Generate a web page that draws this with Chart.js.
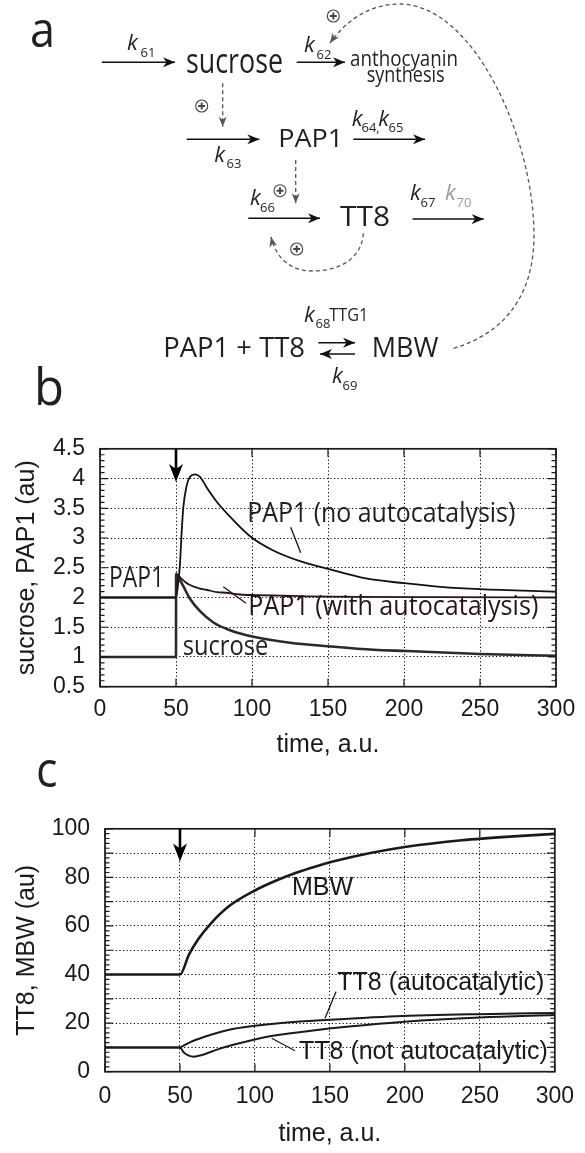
<!DOCTYPE html>
<html>
<head>
<meta charset="utf-8">
<script src="https://cdn.jsdelivr.net/npm/chart.js@4.4.1/dist/chart.umd.min.js"></script>
<style>
  body { margin: 0; background: #fff; }
  #page { position: relative; width: 585px; height: 1153px; overflow: hidden; background: #fff; }
  .box { position: absolute; left: 0; width: 585px; }
  #boxB { top: 420px; height: 340px; }
  #boxC { top: 800px; height: 353px; }
  #overlay { position: absolute; left: 0; top: 0; z-index: 2; pointer-events: none; }
  .d { font-family: 'Open Sans', 'Noto Sans', sans-serif; fill: #231f20; }
  .k { font-family: 'Open Sans', 'Noto Sans', sans-serif; font-style: italic; fill: #231f20; font-size: 22px; }
  .s { font-family: 'Open Sans', 'Noto Sans', sans-serif; fill: #231f20; font-size: 13px; }
  .h { font-family: 'Liberation Sans', Arial, sans-serif; fill: #1a1a1a; font-size: 25px; }
</style>
</head>
<body>
<div id="page">
  <div class="box" id="boxB"><canvas id="chartB"></canvas></div>
  <div class="box" id="boxC"><canvas id="chartC"></canvas></div>

  <svg id="overlay" width="585" height="1153" viewBox="0 0 585 1153">
    <defs>
      <marker id="ah" viewBox="0 0 12 10" refX="12" refY="5" markerWidth="12" markerHeight="10" markerUnits="userSpaceOnUse" orient="auto">
        <path d="M0,0 L12,5 L0,10 L3.5,5z" fill="#111"/>
      </marker>
      <marker id="gh" viewBox="0 0 10 8" refX="10" refY="4" markerWidth="10" markerHeight="8" markerUnits="userSpaceOnUse" orient="auto">
        <path d="M0,0 L10,4 L0,8 L3,4z" fill="#555"/>
      </marker>
    </defs>

    <!-- panel letters -->
    <text class="d" x="30" y="46.7" font-size="50" textLength="25" lengthAdjust="spacingAndGlyphs">a</text>
    <text class="d" x="34" y="405" font-size="52" textLength="30" lengthAdjust="spacingAndGlyphs">b</text>
    <text class="d" x="36" y="786.7" font-size="50" textLength="21.5" lengthAdjust="spacingAndGlyphs">c</text>

    <!-- reaction arrows -->
    <g stroke="#111" stroke-width="1.6" fill="none" marker-end="url(#ah)">
      <line x1="101.7" y1="62.3" x2="175" y2="62.3"/>
      <line x1="296.7" y1="62.3" x2="345" y2="62.3"/>
      <line x1="186.7" y1="139.3" x2="259.3" y2="139.3"/>
      <line x1="353.3" y1="139.3" x2="425" y2="139.3"/>
      <line x1="248.3" y1="218.3" x2="320" y2="218.3"/>
      <line x1="412.5" y1="219" x2="483.7" y2="219"/>
      <line x1="318.3" y1="342.7" x2="355" y2="342.7"/>
      <line x1="355" y1="354" x2="320" y2="354"/>
    </g>

    <!-- regulatory dashed arrows -->
    <g stroke="#555" stroke-width="1.3" fill="none" stroke-dasharray="4 3" marker-end="url(#gh)">
      <line x1="222.7" y1="83.3" x2="222.7" y2="126.7"/>
      <line x1="295.7" y1="160" x2="295.7" y2="203.3"/>
      <path d="M363.3,233.3 C362,258 340,271 313,271 C290,271 276,258 271,237"/>
      <path d="M453.7,348.3 C495,336 534,305 534,235 C534,140 475,5 400,4 C368,4 345,22 330,43"/>
    </g>

    <!-- plus signs -->
    <g stroke="#444" fill="#fff">
      <circle cx="333.3" cy="16" r="6" stroke-width="1.1"/>
      <circle cx="201.7" cy="106" r="6" stroke-width="1.1"/>
      <circle cx="280" cy="190.7" r="6" stroke-width="1.1"/>
      <circle cx="296.7" cy="249" r="6" stroke-width="1.1"/>
    </g>
    <g stroke="#444" stroke-width="1.9">
      <path d="M329.8,16 h7 M333.3,12.5 v7"/>
      <path d="M198.2,106 h7 M201.7,102.5 v7"/>
      <path d="M276.5,190.7 h7 M280,187.2 v7"/>
      <path d="M293.2,249 h7 M296.7,245.5 v7"/>
    </g>

    <!-- species -->
    <text class="d" x="186" y="73.3" font-size="34" textLength="97" lengthAdjust="spacingAndGlyphs">sucrose</text>
    <text class="d" x="350" y="66" font-size="22" textLength="108" lengthAdjust="spacingAndGlyphs">anthocyanin</text>
    <text class="d" x="366.7" y="81.7" font-size="22" textLength="78" lengthAdjust="spacingAndGlyphs">synthesis</text>
    <text class="d" x="278.3" y="146.7" font-size="26" textLength="65" lengthAdjust="spacingAndGlyphs">PAP1</text>
    <text class="d" x="340" y="225.7" font-size="27" textLength="50" lengthAdjust="spacingAndGlyphs">TT8</text>
    <text class="d" x="163.3" y="356.7" font-size="28" textLength="141.7" lengthAdjust="spacingAndGlyphs">PAP1 + TT8</text>
    <text class="d" x="371.7" y="356.7" font-size="28" textLength="66.7" lengthAdjust="spacingAndGlyphs">MBW</text>

    <!-- rate constants -->
    <g lengthAdjust="spacingAndGlyphs">
      <text class="k" x="127" y="50" textLength="12">k</text><text class="s" x="140.5" y="57.3">61</text>
      <text class="k" x="304" y="51.7" textLength="12">k</text><text class="s" x="316.5" y="59.3">62</text>
      <text class="k" x="214.3" y="161.7" textLength="12">k</text><text class="s" x="226.5" y="168.3">63</text>
      <text class="k" x="351.7" y="126" textLength="11">k</text><text class="s" x="361.5" y="131.7">64,</text>
      <text class="k" x="378.3" y="126" textLength="11">k</text><text class="s" x="388.5" y="131.7">65</text>
      <text class="k" x="250" y="205" textLength="11">k</text><text class="s" x="260" y="212.3">66</text>
      <text class="k" x="410" y="200" textLength="11">k</text><text class="s" x="420.5" y="206.7">67</text>
      <text class="k" x="445" y="200" textLength="11" style="fill:#9a9a9a">k</text><text class="s" x="456.5" y="206.7" style="fill:#9a9a9a">70</text>
      <text class="k" x="304" y="321.7" textLength="12">k</text><text class="s" x="315.5" y="328.3">68</text>
      <text class="k" x="332" y="383.3" textLength="11">k</text><text class="s" x="342.5" y="390">69</text>
    </g>
    <text class="d" x="329.3" y="320.7" font-size="17.5" textLength="39" lengthAdjust="spacingAndGlyphs">TTG1</text>

    <!-- panel b annotations -->
    <text class="d" x="109" y="586.7" font-size="29" textLength="55" lengthAdjust="spacingAndGlyphs">PAP1</text>
    <text class="d" x="247.3" y="522" font-size="28" textLength="268" lengthAdjust="spacingAndGlyphs">PAP1 (no autocatalysis)</text>
    <text class="d" x="248.3" y="615" font-size="28" textLength="290" lengthAdjust="spacingAndGlyphs" style="fill:#2b1414">PAP1 (with autocatalysis)</text>
    <text class="d" x="182.7" y="655" font-size="28" textLength="85.6" lengthAdjust="spacingAndGlyphs">sucrose</text>
    <line x1="290.7" y1="527.3" x2="300.7" y2="552.7" stroke="#2b1414" stroke-width="1.4"/>
    <line x1="223.3" y1="586.7" x2="246" y2="603.3" stroke="#2b1414" stroke-width="1.4"/>

    <!-- panel c annotations -->
    <text class="h" x="292" y="895">MBW</text>
    <text class="h" x="337.3" y="990">TT8 (autocatalytic)</text>
    <text class="h" x="299" y="1059">TT8 (not autocatalytic)</text>
    <line x1="336" y1="991.7" x2="325" y2="1018.3" stroke="#1a1a1a" stroke-width="1.3"/>
    <line x1="271.7" y1="1038.3" x2="295" y2="1050.7" stroke="#1a1a1a" stroke-width="1.3"/>
  </svg>
</div>

<script>
// shared time axis
const timeTicks = [0, 50, 100, 150, 200, 250, 300];
const stimulusTime = 50;

// panel b: sucrose and PAP1 (au)
const sucroseT = [0, 50, 50.05, 51, 52.5, 54.8, 59.2, 65.8, 74.6, 85.5, 101, 125, 150, 180, 202, 250, 300];
const sucroseV = [1, 1, 2.40, 2.37, 2.30, 2.19, 1.98, 1.77, 1.58, 1.45, 1.34, 1.24, 1.18, 1.12, 1.10, 1.05, 1.02];
const papAutoT = [0, 50, 51.5, 53, 56, 59.2, 65.8, 70, 77, 83, 92, 103, 120, 136, 170, 220, 300];
const papAutoV = [2, 2, 2.37, 2.33, 2.26, 2.21, 2.15, 2.13, 2.09, 2.08, 2.05, 2.04, 2.03, 2.02, 2.01, 2.005, 2.0];
const papNoT = [0, 50, 51.5, 52.6, 53.7, 54.8, 57, 59.2, 62.5, 65.8, 70.2, 76.8, 87.7, 98.7, 114, 131.6, 150, 175, 200, 224, 250, 300];
const papNoV = [2, 2, 2.25, 2.56, 3.09, 3.51, 3.88, 4.03, 4.07, 4.03, 3.85, 3.61, 3.30, 3.03, 2.79, 2.61, 2.48, 2.32, 2.24, 2.18, 2.14, 2.10];

// panel c: TT8 and MBW (au)
const mbwT = [0, 50, 56, 62.5, 71, 82, 100, 115, 128, 140, 152, 177, 201, 238, 275, 300];
const mbwV = [40, 40, 48.2, 54.8, 61.3, 67.8, 74.6, 78.9, 82.0, 84.4, 86.5, 90.0, 92.6, 95.3, 97.0, 97.9];
const tt8AutoT = [0, 50, 52, 55.9, 66.9, 82.2, 100, 119.5, 141, 160, 194, 249, 300];
const tt8AutoV = [10, 10, 10.6, 11.9, 14.5, 17.2, 18.9, 20.2, 21.1, 21.7, 22.8, 23.7, 24.2];
const tt8NotT = [0, 50, 52.6, 55.9, 59.2, 64.7, 75.7, 88.8, 104.2, 123.9, 141.4, 161, 200, 250, 300];
const tt8NotV = [10, 10, 7.9, 6.6, 6.2, 6.9, 9.3, 11.6, 13.9, 15.8, 17.2, 18.5, 20.6, 22.3, 23.3];

const zip = (t, v) => t.map((x, i) => ({ x, y: v[i] }));

Chart.defaults.font.family = "'Liberation Sans', Arial, Helvetica, sans-serif";
Chart.defaults.color = '#1a1a1a';

// box, inward ticks and the stimulus arrow
const framePlugin = {
  id: 'frame',
  afterDraw(chart, args, o) {
    const { ctx, chartArea: a, scales: { x, y } } = chart;
    ctx.save();
    ctx.strokeStyle = '#1a1a1a';
    ctx.lineWidth = 1.2;
    ctx.beginPath();
    const n = Math.round((y.max - y.min) / o.yMinor);
    const per = Math.round(o.yMajor / o.yMinor);
    for (let i = 0; i <= n; i++) {
      const py = y.getPixelForValue(y.min + i * o.yMinor);
      const len = i % per === 0 ? 8 : 4.5;
      ctx.moveTo(a.left, py); ctx.lineTo(a.left + len, py);
      ctx.moveTo(a.right, py); ctx.lineTo(a.right - len, py);
    }
    for (const v of timeTicks) {
      const px = x.getPixelForValue(v);
      ctx.moveTo(px, a.bottom); ctx.lineTo(px, a.bottom - 8);
      ctx.moveTo(px, a.top); ctx.lineTo(px, a.top + 8);
    }
    ctx.stroke();
    ctx.lineWidth = 1.7;
    ctx.strokeRect(a.left, a.top, a.right - a.left, a.bottom - a.top);

    const ax = x.getPixelForValue(stimulusTime);
    const tip = y.getPixelForValue(o.arrowTip);
    ctx.strokeStyle = '#000';
    ctx.lineWidth = 2.6;
    ctx.beginPath(); ctx.moveTo(ax, a.top); ctx.lineTo(ax, tip - 10); ctx.stroke();
    ctx.fillStyle = '#000';
    ctx.beginPath();
    ctx.moveTo(ax, tip); ctx.lineTo(ax - 7, tip - 18); ctx.lineTo(ax, tip - 13); ctx.lineTo(ax + 7, tip - 18);
    ctx.closePath(); ctx.fill();
    ctx.restore();
  }
};

function line(data, color, width) {
  return { data, borderColor: color, borderWidth: width, pointRadius: 0, fill: false, cubicInterpolationMode: 'monotone' };
}

function makeChart(id, datasets, c) {
  return new Chart(document.getElementById(id), {
    type: 'line',
    data: { datasets },
    plugins: [framePlugin],
    options: {
      animation: false,
      responsive: true,
      maintainAspectRatio: false,
      layout: { padding: { left: 0, right: c.padRight, top: c.padTop, bottom: 0 } },
      plugins: { legend: { display: false }, tooltip: { enabled: false }, frame: c.frame },
      scales: {
        x: {
          type: 'linear', min: 0, max: 300,
          afterFit: s => { s.height = c.xHeight; },
          ticks: { stepSize: 50, autoSkip: false, padding: c.xPad, font: { size: 23 }, color: '#1a1a1a', maxRotation: 0 },
          grid: { color: '#000', lineWidth: 1, drawTicks: false },
          border: { display: false, dash: [1.2, 2.4] },
          title: { display: true, text: 'time, a.u.', font: { size: 25 }, color: '#1a1a1a', padding: { top: 0, bottom: c.xTitlePad } }
        },
        y: {
          type: 'linear', min: c.yMin, max: c.yMax,
          afterFit: s => { s.width = c.yWidth; },
          ticks: { stepSize: c.yStep, autoSkip: false, padding: 15, font: { size: 23 }, color: '#1a1a1a', callback: c.yLabel },
          grid: { color: '#000', lineWidth: 1, drawTicks: false },
          border: { display: false, dash: [1.2, 2.4] },
          title: { display: true, text: c.yTitle, font: { size: 25 }, color: '#1a1a1a', padding: { top: 12, bottom: 0 } }
        }
      }
    }
  });
}

makeChart('chartB', [
  line(zip(papAutoT, papAutoV), '#2b1414', 1.8),
  line(zip(sucroseT, sucroseV), '#2a2a2a', 2.6),
  line(zip(papNoT, papNoV), '#111', 1.8)
], {
  padRight: 29, padTop: 14, xHeight: 73.3, yWidth: 100, xPad: 9, xTitlePad: 0,
  yMin: 0.5, yMax: 4.5, yStep: 0.5, yTitle: 'sucrose, PAP1 (au)',
  yLabel: v => String(v),
  frame: { yMinor: 0.1, yMajor: 0.5, arrowTip: 3.94 }
});

makeChart('chartC', [
  line(zip(mbwT, mbwV), '#1a1a1a', 2.6),
  line(zip(tt8AutoT, tt8AutoV), '#1a1a1a', 2.0),
  line(zip(tt8NotT, tt8NotV), '#1a1a1a', 2.0)
], {
  padRight: 24, padTop: 19, xHeight: 81.3, yWidth: 105, xPad: 11, xTitlePad: 4,
  yMin: 0, yMax: 100, yStep: 10, yTitle: 'TT8, MBW (au)',
  yLabel: v => (v % 20 === 0 ? String(v) : ''),
  frame: { yMinor: 2, yMajor: 10, arrowTip: 86.5 }
});
</script>
</body>
</html>
